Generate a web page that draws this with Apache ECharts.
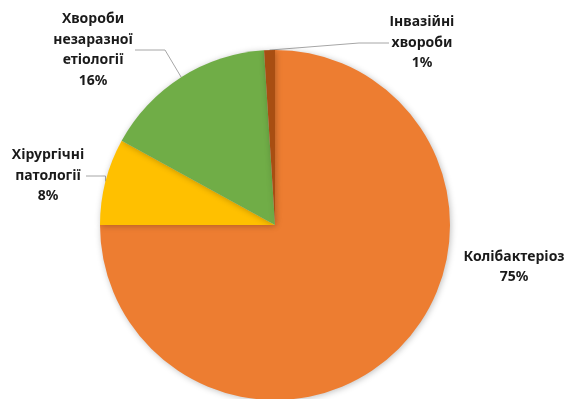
<!DOCTYPE html>
<html>
<head>
<meta charset="utf-8">
<script src="https://cdn.jsdelivr.net/npm/echarts@6/dist/echarts.min.js"></script>
<style>html,body{margin:0;padding:0;background:#fff}#c{width:566px;height:399px}</style>
</head>
<body>
<div id="c"></div>
<script>
const categories = ['Колібактеріоз', 'Хірургічні\nпатології', 'Хвороби\nнезаразної\nетіології', 'Інвазійні\nхвороби'];
const values = [75, 8, 16, 1];
const colors = ['#ED7D31', '#FFC000', '#70AD47', '#A84E12'];
const showLeader = [false, true, true, true];
// label layout only (centre positions and box widths)
const labelPos = [[514, 267], [48, 176], [93, 50], [422, 43]];
const labelWidth = [104, 76, 84, 66];

const chart = echarts.init(document.getElementById('c'));
chart.setOption({
  animation: false,
  series: [{
    type: 'pie',
    center: [275, 225],
    radius: 175,
    startAngle: 90,
    clockwise: true,
    data: categories.map((n, i) => ({
      name: n, value: values[i],
      itemStyle: { color: colors[i] },
      label: { width: labelWidth[i] },
      labelLine: { show: showLeader[i] }
    })),
    itemStyle: { shadowBlur: 6, shadowColor: 'rgba(0,0,0,0.25)', shadowOffsetX: 1, shadowOffsetY: 1 },
    label: {
      show: true,
      formatter: '{b}\n{d}%',
      fontFamily: 'Noto Sans',
      fontWeight: 'bold',
      fontSize: 14,
      lineHeight: 20.5,
      color: '#1a1a1a',
      align: 'center',
      overflow: 'none'
    },
    labelLine: { show: true, lineStyle: { color: '#a6a6a6', width: 1 } },
    labelLayout: function (p) {
      const pos = labelPos[p.dataIndex];
      return { x: pos[0], y: pos[1], align: 'center', verticalAlign: 'middle' };
    }
  }]
});
</script>
</body>
</html>
